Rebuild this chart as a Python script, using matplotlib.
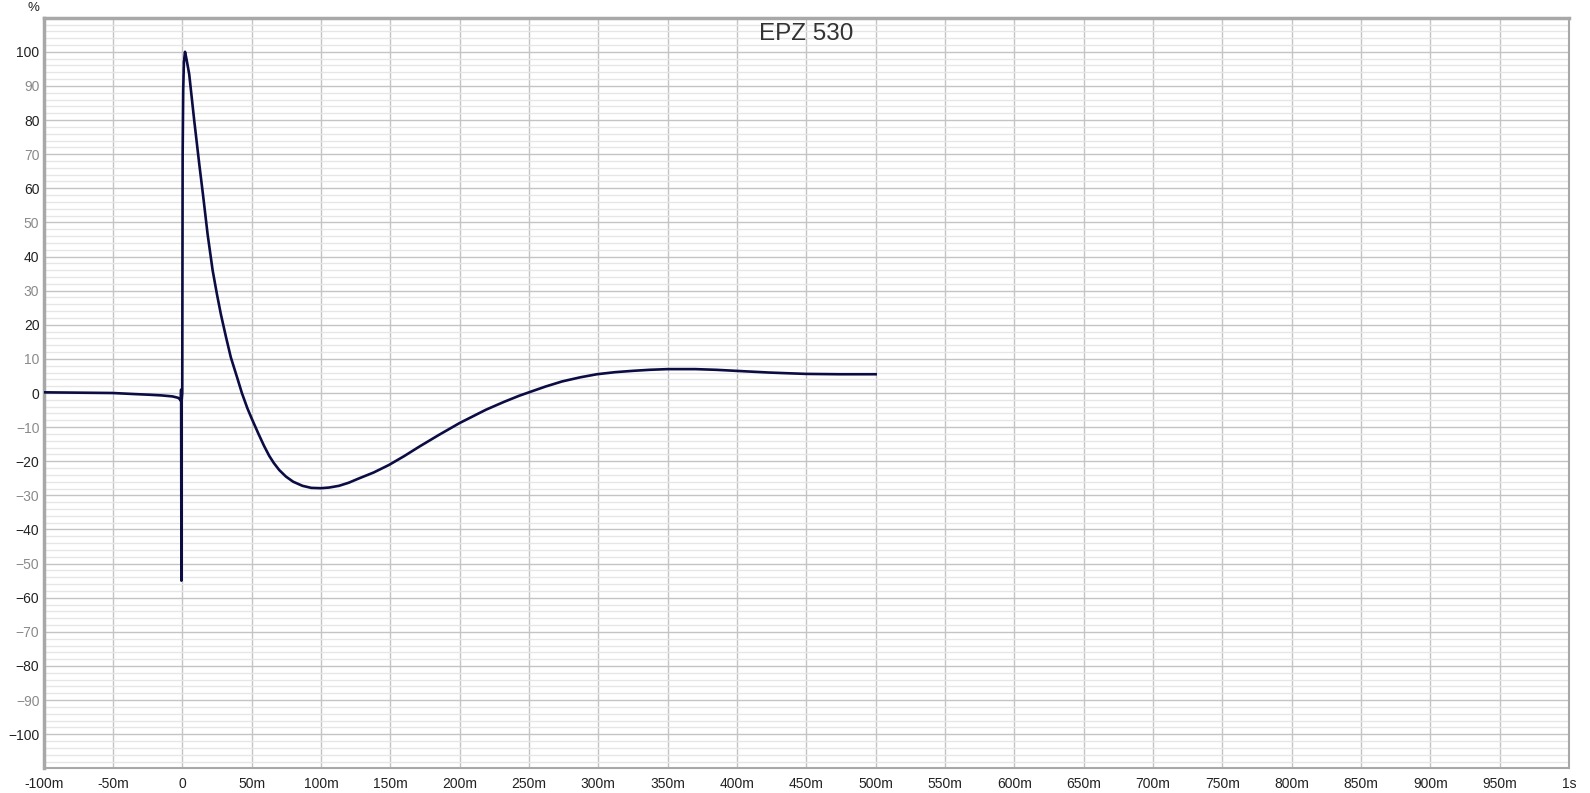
#!/usr/bin/env python3

import matplotlib
matplotlib.use("Agg")
from matplotlib import pyplot as plt
from matplotlib import ticker

# impulse response (time in ms, level in %)
time_ms = [
    -100, -75, -50, -35, -24, -15, -7, -3, -1.5, -1.0, -0.8, -0.6, -0.4,
    0.0, 0.3, 0.7, 1.2, 2.0, 3.0, 5.0, 8.6, 12.3, 15.0, 18.3, 21.9, 25.0,
    27.9, 31.5, 35.0, 40.0, 43.0, 47.0, 50.0, 55.0, 59.0, 62.7, 66.0, 70.0,
    74.8, 80.0, 86.7, 93.0, 100.0, 106.0, 113.0, 120.0, 127.6, 138.0, 149.0,
    160.0, 171.0, 185.0, 200.0, 219.0, 232.0, 243.0, 250.0, 262.0, 274.0,
    287.0, 299.0, 312.0, 325.0, 337.0, 350.0, 370.0, 385.0, 399.0, 411.0,
    423.0, 436.0, 450.0, 474.0, 500.0,
]
level_pct = [
    0.2, 0.1, 0.0, -0.3, -0.5, -0.7, -1.0, -1.4, -1.9, -2.3, 1.0, -55.0, -2.0,
    0.0, 70.0, 89.0, 97.0, 100.0, 98.0, 93.5, 80.0, 67.0, 58.0, 46.5, 36.0, 29.0,
    23.0, 16.5, 10.5, 4.0, 0.0, -4.5, -7.4, -12.0, -15.5, -18.4, -20.5, -22.6,
    -24.5, -26.0, -27.2, -27.8, -27.9, -27.7, -27.2, -26.3, -25.0, -23.3, -21.1,
    -18.5, -15.7, -12.3, -8.8, -4.9, -2.6, -0.8, 0.2, 1.9, 3.4,
    4.6, 5.5, 6.1, 6.5, 6.8, 7.0, 7.0, 6.8, 6.5, 6.25,
    6.0, 5.8, 5.6, 5.5, 5.5,
]

title = "EPZ 530"
x_ticks_ms = list(range(-100, 1001, 50))
y_ticks = list(range(-100, 101, 10))

plt.rcParams["font.family"] = ["Liberation Sans", "DejaVu Sans"]

fig = plt.figure(figsize=(15.9, 7.93), dpi=100)
ax = fig.add_axes([0.0274, 0.0311, 0.9594, 0.9466])

ax.plot([t / 1000 for t in time_ms], level_pct, color="#0c0c45", lw=1.9,
        solid_joinstyle="round", zorder=3)

ax.set_xlim(-0.1, 1.0)
ax.set_ylim(-110, 110)


def fmt_time(v, pos):
    ms = round(v * 1000)
    if ms == 0:
        return "0"
    if ms == 1000:
        return "1s"
    return f"{ms}m"


ax.set_xticks([t / 1000 for t in x_ticks_ms])
ax.xaxis.set_major_formatter(ticker.FuncFormatter(fmt_time))
ax.set_yticks(y_ticks)
ax.yaxis.set_minor_locator(ticker.MultipleLocator(2))

ax.grid(which="major", color="#c4c4c4", lw=1.0)
ax.grid(which="minor", axis="y", color="#e6e6e6", lw=1.0)
ax.set_axisbelow(True)

ax.tick_params(which="both", length=0)
ax.tick_params(axis="x", pad=6, labelsize=10, labelcolor="#222222")
ax.tick_params(axis="y", pad=3, labelsize=10)
for v, lab in zip(y_ticks, ax.get_yticklabels()):
    lab.set_color("#222222" if v % 20 == 0 else "#8a8a8a")

for s in ax.spines.values():
    s.set_color("#a8a8a8")
    s.set_linewidth(1.5)
ax.spines["left"].set_linewidth(2.5)
ax.spines["top"].set_linewidth(2.5)

ax.text(0.5, 0.978, title, transform=ax.transAxes, ha="center", va="center",
        fontsize=17.5, color="#333333")
fig.text(33 / 1590, 1 - 8 / 793, "%", ha="center", va="center",
         fontsize=9.5, color="#222222")

plt.savefig("out.png", dpi=100)
